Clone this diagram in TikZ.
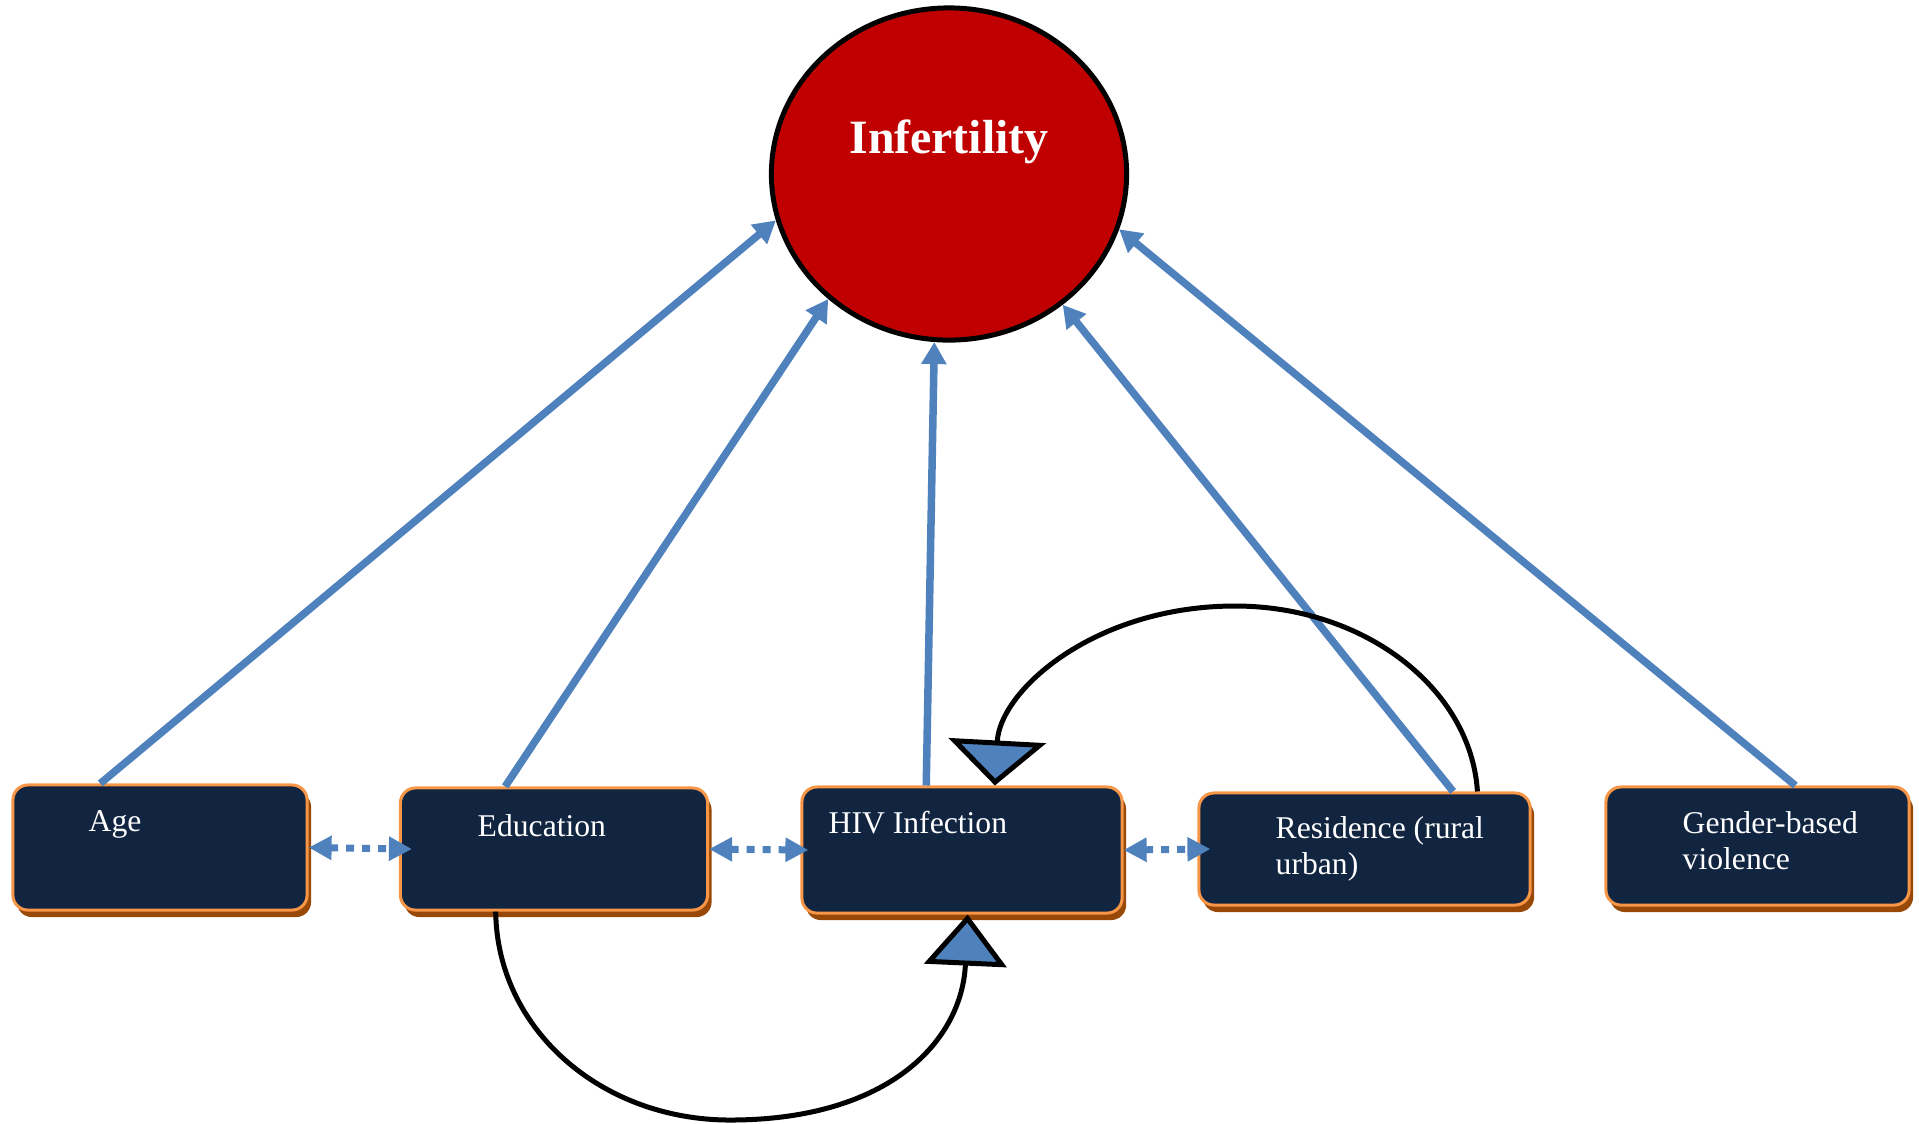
\documentclass[tikz,border=0pt]{standalone}
\usepackage{fontspec}
\setmainfont{Liberation Serif}
\usetikzlibrary{positioning, arrows.meta, shapes.geometric, shadows}
\definecolor{navy}{RGB}{17,36,64}
\definecolor{boxorange}{RGB}{247,150,70}
\definecolor{boxshade}{RGB}{152,72,7}
\definecolor{infred}{RGB}{192,0,0}
\definecolor{linkblue}{RGB}{79,129,189}
\tikzset{
  factor/.style={
    draw=boxorange, fill=navy, rounded corners=0.15cm, line width=0.03cm,
    inner sep=0pt,
    general shadow={fill=boxshade, shadow xshift=0.04cm, shadow yshift=-0.07cm}
  },
  boxtext/.style={
    text=white, font=\fontsize{9}{10.2}\selectfont, inner sep=0pt,
    anchor=base west, align=left
  },
  arrow/.style={-{Triangle[length=0.22cm, width=0.24cm]}, draw=linkblue, line width=0.075cm},
  dotarrow/.style={{Triangle[length=0.23cm, width=0.23cm]}-{Triangle[length=0.23cm, width=0.23cm]},
    draw=linkblue, line width=0.07cm, dash pattern=on 0.08cm off 0.08cm},
  loopline/.style={draw=black, line width=0.05cm}
}

\begin{document}
\begin{tikzpicture}[x=0.01cm, y=-0.01cm]
  \useasboundingbox (0,0) rectangle (1919,1123);

  % factor boxes
  \node[factor, minimum width=2.94cm, minimum height=1.25cm] (age) at (160,847.5) {};
  \node[factor, minimum width=3.07cm, minimum height=1.22cm] (edu) at (554,849) {};
  \node[factor, minimum width=3.20cm, minimum height=1.26cm] (hiv) at (962,850) {};
  \node[factor, minimum width=3.31cm, minimum height=1.12cm] (res) at (1364.5,849) {};
  \node[factor, minimum width=3.03cm, minimum height=1.18cm] (gbv) at (1757.5,846) {};

  \node[boxtext] (agetxt) at (88,831) {Age};
  \node[boxtext] (edutxt) at (477,836) {Education};
  \node[boxtext] (hivtxt) at (828,833) {HIV Infection};
  \node[boxtext] (restxt) at (1275,874) {Residence (rural\\urban)};
  \node[boxtext] (gbvtxt) at (1682,869) {Gender-based\\violence};

  % outcome
  \node[ellipse, draw=black, line width=0.05cm, fill=infred, inner sep=0pt,
    minimum width=3.55cm, minimum height=3.32cm] (inf) at (949,174) {};
  \node[text=white, font=\bfseries\fontsize{13.6}{16}\selectfont, inner sep=0pt, anchor=base] (inftxt) at (949,153) {Infertility};

  \draw[arrow] (age.133) -- (inf.195.4);
  \draw[arrow] (edu.128) -- (inf.226.4);
  \draw[arrow] (hiv.119) -- (inf.265.2);
  \draw[arrow] (res.33.5) -- (inf.311.5);
  \draw[arrow] (gbv.58) -- (inf.342.2);

  \draw[dotarrow] (age.east) -- ([xshift=0.13cm]edu.west);
  \draw[dotarrow] (edu.east) -- ([xshift=0.08cm]hiv.west);
  \draw[dotarrow] (hiv.east) -- ([xshift=0.13cm]res.west);

  % feedback loops
  \draw[loopline, -{Triangle[length=0.45cm, width=0.97cm, fill=linkblue]}]
    (res.27.5) .. controls (1471,689) and (1365,606) .. (1235,606)
    .. controls (1095,606) and (1000,690) .. (hiv.63);
  \draw[loopline, -{Triangle[length=0.51cm, width=0.82cm, fill=linkblue]}]
    (edu.227) .. controls (497,1029) and (601,1120) .. (730,1120)
    .. controls (890,1120) and (962,1040) .. (hiv.275);
\end{tikzpicture}
\end{document}
